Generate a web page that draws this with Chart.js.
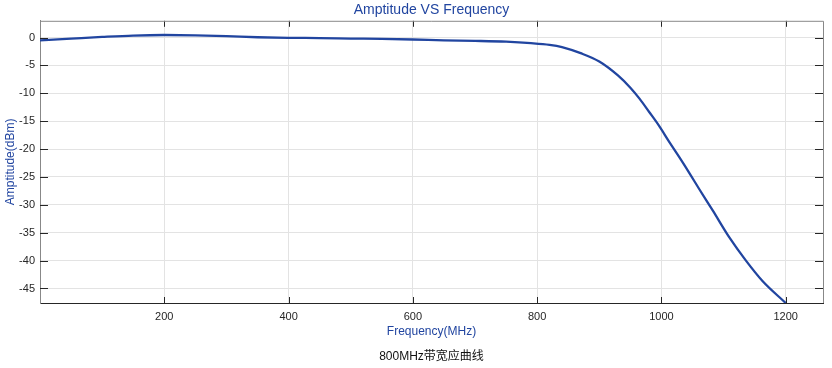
<!DOCTYPE html>
<html>
<head>
<meta charset="utf-8">
<script src="https://cdn.jsdelivr.net/npm/chart.js@4/dist/chart.umd.min.js"></script>
<style>
  html, body { margin: 0; padding: 0; background: #fff; }
  #wrap { width: 832px; height: 368px; }
</style>
</head>
<body>
<div id="wrap"><canvas id="ampChart" width="832" height="368"></canvas></div>
<script>
// values
const freq = [0, 50, 100, 150, 200, 250, 300, 350, 400, 450, 500, 550, 600, 650, 700, 750, 790,
    820, 840, 870, 900, 930, 950, 965, 980, 996, 1012, 1029, 1045, 1061, 1083, 1109, 1136, 1163, 1200];
const amp = [-0.5, -0.2, 0.1, 0.35, 0.45, 0.4, 0.25, 0.05, -0.05, -0.1, -0.18, -0.25, -0.35, -0.5, -0.6, -0.75, -1.0,
    -1.3, -1.7, -2.8, -4.3, -6.8, -9.0, -11.0, -13.3, -15.8, -18.6, -21.5, -24.3, -27.2, -31.1, -35.8, -40.0, -43.7, -47.6];
const xTicks = [200, 400, 600, 800, 1000, 1200];
const yTicks = [0, -5, -10, -15, -20, -25, -30, -35, -40, -45];

const blue = '#2145a0';
const font = '"Liberation Sans", Arial, "Noto Sans CJK SC", sans-serif';

// box lines + inward tick marks (matlab style)
const boxTicks = {
    id: 'boxTicks',
    afterDatasetsDraw(chart) {
        const { ctx, chartArea: a, scales: { x, y } } = chart;
        ctx.save();
        ctx.lineWidth = 1;
        ctx.strokeStyle = '#262626';
        xTicks.forEach(v => {
            const px = Math.round(x.getPixelForValue(v)) + 0.5;
            ctx.beginPath();
            ctx.moveTo(px, a.bottom); ctx.lineTo(px, a.bottom - 6);
            ctx.moveTo(px, a.top); ctx.lineTo(px, a.top + 6);
            ctx.stroke();
        });
        yTicks.forEach(v => {
            const py = Math.round(y.getPixelForValue(v)) + 0.5;
            ctx.beginPath();
            ctx.moveTo(a.left, py); ctx.lineTo(a.left + 8, py);
            ctx.moveTo(a.right, py); ctx.lineTo(a.right - 8, py);
            ctx.stroke();
        });
        ctx.strokeStyle = '#888';
        ctx.beginPath();
        ctx.moveTo(a.left, a.top + 0.5); ctx.lineTo(a.right + 0.5, a.top + 0.5);
        ctx.lineTo(a.right + 0.5, a.bottom);
        ctx.stroke();
        ctx.restore();
    }
};

new Chart(document.getElementById('ampChart'), {
    type: 'line',
    data: {
        datasets: [{
            data: freq.map((f, i) => ({ x: f, y: amp[i] })),
            borderColor: blue,
            borderWidth: 2.3,
            pointRadius: 0,
            cubicInterpolationMode: 'monotone',
            fill: false
        }]
    },
    options: {
        responsive: false,
        animation: false,
        layout: { padding: { left: 0, right: 9, top: 0, bottom: 0 } },
        plugins: {
            legend: { display: false },
            tooltip: { enabled: false },
            title: {
                display: true,
                text: 'Amptitude VS Frequency',
                color: blue,
                fullSize: false,
                font: { family: font, size: 14, weight: 'normal' },
                padding: { top: 2, bottom: 2 }
            },
            subtitle: {
                display: true,
                position: 'bottom',
                text: '800MHz带宽应曲线',
                color: '#111',
                fullSize: false,
                font: { family: font, size: 12, weight: 'normal' },
                padding: { top: 4, bottom: 4 }
            }
        },
        scales: {
            x: {
                type: 'linear',
                min: 0,
                max: 1260,
                afterBuildTicks: s => { s.ticks = xTicks.map(v => ({ value: v })); },
                afterFit: s => { s.height = 42.6; },
                grid: { color: '#e3e3e3', drawTicks: false },
                border: { color: '#262626', width: 1 },
                ticks: {
                    color: '#262626', font: { family: font, size: 11 }, padding: 7, maxRotation: 0,
                    callback: v => String(v)
                },
                title: {
                    display: true,
                    text: 'Frequency(MHz)',
                    color: blue,
                    font: { family: font, size: 12 },
                    padding: { top: 0, bottom: 7 }
                }
            },
            y: {
                min: -47.6,
                max: 3,
                afterBuildTicks: s => { s.ticks = yTicks.map(v => ({ value: v })); },
                afterFit: s => { s.width = 40; },
                grid: { color: '#e3e3e3', drawTicks: false },
                border: { color: '#888', width: 1 },
                ticks: { color: '#262626', font: { family: font, size: 11 }, padding: 5, callback: v => String(v) },
                title: {
                    display: true,
                    text: 'Amptitude(dBm)',
                    color: blue,
                    font: { family: font, size: 12 },
                    padding: { top: 3, bottom: 0 }
                }
            }
        }
    },
    plugins: [boxTicks]
});
</script>
</body>
</html>
